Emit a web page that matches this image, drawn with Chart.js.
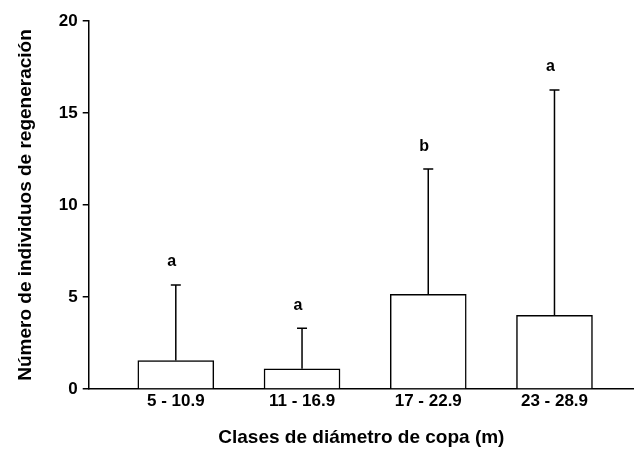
<!DOCTYPE html>
<html>
<head>
<meta charset="utf-8">
<script src="https://cdn.jsdelivr.net/npm/chart.js@4/dist/chart.umd.min.js"></script>
<style>
  html, body { margin: 0; padding: 0; background: #fff; }
  #wrap { width: 634px; height: 449px; }
</style>
</head>
<body>
<div id="wrap"><canvas id="c" width="634" height="449"></canvas></div>
<script>
"use strict";
// clases de diametro de copa
const categories = ['5 - 10.9', '11 - 16.9', '17 - 22.9', '23 - 28.9'];
const means = [1.55, 1.1, 5.15, 4.0];
const errTop = [5.65, 3.3, 11.95, 16.25];
const letters = ['a', 'a', 'b', 'a'];
const yTicks = [0, 5, 10, 15, 20];

const fontFam = '"Liberation Sans", Arial, sans-serif';

const errorBars = {
    id: 'errorBars',
    afterDatasetsDraw(chart) {
        const ctx = chart.ctx;
        const xs = chart.scales.x, ys = chart.scales.y;
        ctx.save();
        ctx.strokeStyle = '#000';
        ctx.lineWidth = 1.5;
        ctx.fillStyle = '#000';
        ctx.font = 'bold 16px ' + fontFam;
        ctx.textAlign = 'center';
        ctx.textBaseline = 'middle';
        for (let i = 0; i < categories.length; i++) {
            let x = xs.getPixelForValue(i + 1);
            let y0 = ys.getPixelForValue(means[i]);
            let y1 = ys.getPixelForValue(errTop[i]);
            ctx.beginPath();
            ctx.moveTo(x, y0);
            ctx.lineTo(x, y1);
            ctx.moveTo(x - 5, y1);
            ctx.lineTo(x + 5, y1);
            ctx.stroke();
            ctx.fillText(letters[i], x - 4, y1 - 23);
        }
        ctx.restore();
    }
};

const data = {
    datasets: [{
        data: means.map((v, i) => ({ x: i + 1, y: v })),
        backgroundColor: '#fff',
        borderColor: '#000',
        borderWidth: 1.5,
        barThickness: 76,
    }]
};

const config = {
    type: 'bar',
    data: data,
    options: {
        responsive: false,
        animation: false,
        layout: { padding: { left: 14, top: 21, right: 0, bottom: 2 } },
        plugins: {
            legend: { display: false },
            tooltip: { enabled: false }
        },
        scales: {
            x: {
                type: 'linear',
                offset: false,
                min: 0.31,
                max: 4.63,
                afterBuildTicks: axis => { axis.ticks = categories.map((c, i) => ({ value: i + 1 })); },
                grid: { display: false, drawTicks: false },
                border: { color: '#000', width: 1.5 },
                ticks: {
                    color: '#000',
                    padding: 4,
                    font: { family: fontFam, size: 17, weight: 'bold', lineHeight: 1 },
                    callback: v => categories[v - 1]
                },
                title: {
                    display: true,
                    text: 'Clases de diámetro de copa (m)',
                    color: '#000',
                    font: { family: fontFam, size: 19, weight: 'bold', lineHeight: 1 },
                    padding: { top: 14, bottom: 0 }
                }
            },
            y: {
                min: 0,
                max: 20,
                afterBuildTicks: axis => { axis.ticks = yTicks.map(v => ({ value: v })); },
                grid: { display: true, drawOnChartArea: false, tickLength: 6, color: '#000', lineWidth: 1.5 },
                border: { color: '#000', width: 1.5 },
                ticks: {
                    color: '#000',
                    padding: 5,
                    font: { family: fontFam, size: 17, weight: 'bold' }
                },
                title: {
                    display: true,
                    text: 'Número de individuos de regeneración',
                    color: '#000',
                    font: { family: fontFam, size: 19, weight: 'bold' },
                    padding: { top: 0, bottom: 17 }
                }
            }
        }
    },
    plugins: [errorBars]
};

const theChart = new Chart(document.getElementById('c'), config);
</script>
</body>
</html>
